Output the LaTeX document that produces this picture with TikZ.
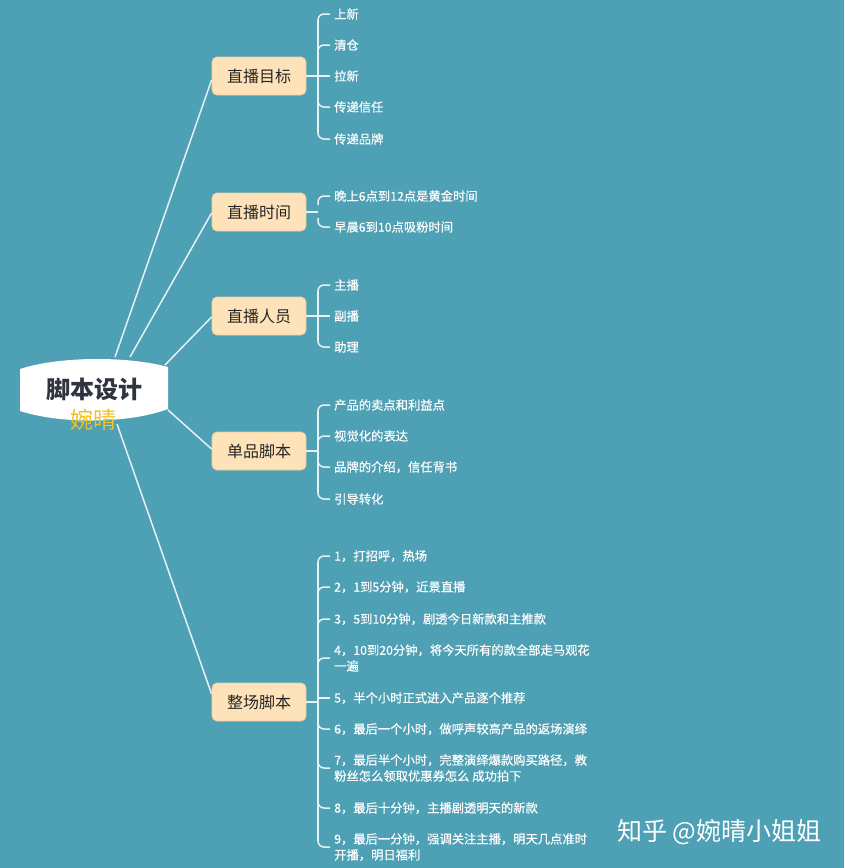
\documentclass[tikz,border=0pt]{standalone}
\usepackage{fontspec}
\setmainfont{Noto Sans CJK SC}
\newfontfamily\leaffont[FakeBold=0.4]{Noto Sans CJK SC}
\definecolor{bg}{RGB}{78,160,180}
\definecolor{branchfill}{RGB}{254,227,186}
\definecolor{branchdraw}{RGB}{238,206,152}
\definecolor{linec}{RGB}{228,242,246}
\definecolor{yel}{RGB}{243,192,38}
\definecolor{darktext}{RGB}{38,38,38}
\definecolor{roottext}{RGB}{48,52,62}
\tikzset{
  conn/.style={draw=linec, line width=1.5pt},
  branchbox/.style={rounded corners=5pt, fill=branchfill, draw=branchdraw, line width=0.8pt,
    minimum width=94pt, minimum height=38pt, inner sep=0pt, text=darktext,
    font=\fontsize{16}{19}\selectfont},
  leaf/.style={anchor=west, text=white, font=\leaffont\fontsize{12.3}{16}\selectfont, align=left,
    inner xsep=4pt, inner ysep=1pt}
}
\newcommand\leafup[3]{\node[leaf] (#1) at (330,#2) {#3};
  \draw[conn, rounded corners=6pt] (318,#2+9) |- (#1.west);}
\newcommand\leafdn[3]{\node[leaf] (#1) at (330,#2) {#3};
  \draw[conn, rounded corners=6pt] (318,#2-9) |- (#1.west);}
\newcommand\leafmid[3]{\node[leaf] (#1) at (330,#2) {#3};}
\begin{document}
\begin{tikzpicture}[x=1pt, y=-1pt]
\fill[bg] (0,0) rectangle (844,868);
\useasboundingbox (0,0) rectangle (844,868);

% root
\fill[white] (20,369) .. controls (60,356) and (128,356) .. (168,367)
  -- (168,409) .. controls (128,424) and (60,424) .. (20,411) -- cycle;
\node[font=\bfseries\fontsize{24}{28}\selectfont, text=roottext] (root) at (94,389) {脚本设计};
\node[font=\fontsize{23}{26}\selectfont, text=yel] (sub) at (93,420) {婉晴};

\coordinate (r1) at (115,357);
\coordinate (r2) at (130,357);
\coordinate (r3) at (165,365);
\coordinate (r4) at (168,410);
\coordinate (r5) at (117,424);

% branches
\node[branchbox] (b1) at (259,76) {直播目标};
\node[branchbox] (b2) at (259,212) {直播时间};
\node[branchbox] (b3) at (259,316) {直播人员};
\node[branchbox] (b4) at (259,451) {单品脚本};
\node[branchbox] (b5) at (259,702) {整场脚本};

\draw[conn] (r1) -- ([yshift=-4pt]b1.west);
\draw[conn] (r2) -- ([yshift=-1pt]b2.west);
\draw[conn] (r3) -- ([yshift=-1pt]b3.west);
\draw[conn] (r4) -- ([yshift=2pt]b4.west);
\draw[conn] (r5) -- ([yshift=8pt]b5.west);

% group 1
\draw[conn] (318,20) -- (318,133);
\leafup{l11}{14}{上新}
\leafup{l12}{45}{清仓}
\leafmid{l13}{76}{拉新}
\leafdn{l14}{107}{传递信任}
\leafdn{l15}{139}{传递品牌}
\draw[conn] (b1.east) -- (l13.west);

% group 2
\leafup{l21}{196}{晚上6点到12点是黄金时间}
\leafdn{l22}{227}{早晨6到10点吸粉时间}
\draw[conn] (b2.east) -- (318,212);

% group 3
\draw[conn] (318,291) -- (318,341);
\leafup{l31}{285}{主播}
\leafmid{l32}{316}{副播}
\leafdn{l33}{347}{助理}
\draw[conn] (b3.east) -- (l32.west);

% group 4
\draw[conn] (318,411) -- (318,493);
\leafup{l41}{405}{产品的卖点和利益点}
\leafup{l42}{436}{视觉化的表达}
\leafdn{l43}{467}{品牌的介绍，信任背书}
\leafdn{l44}{499}{引导转化}
\draw[conn] (b4.east) -- (318,451);

% group 5
\draw[conn] (318,562) -- (318,841);
\leafup{l51}{556}{1，打招呼，热场}
\leafup{l52}{587}{2，1到5分钟，近景直播}
\leafup{l53}{619}{3，5到10分钟，剧透今日新款和主推款}
\leafup{l54}{658}{4，10到20分钟，将今天所有的款全部走马观花\\一遍}
\leafmid{l55}{698}{5，半个小时正式进入产品逐个推荐}
\leafdn{l56}{729}{6，最后一个小时，做呼声较高产品的返场演绎}
\leafdn{l57}{768}{7，最后半个小时，完整演绎爆款购买路径，教\\粉丝怎么领取优惠券怎么 成功拍下}
\leafdn{l58}{808}{8，最后十分钟，主播剧透明天的新款}
\leafdn{l59}{847}{9，最后一分钟，强调关注主播，明天几点准时\\开播，明日福利}
\draw[conn] (b5.east) -- (318,702);
\draw[conn] (318,698) -- (l55.west);

% watermark
\node[anchor=west, text=white, font=\fontsize{25}{28}\selectfont, inner sep=0pt] (wm) at (617,832) {知乎 @婉晴小姐姐};
\end{tikzpicture}
\end{document}
